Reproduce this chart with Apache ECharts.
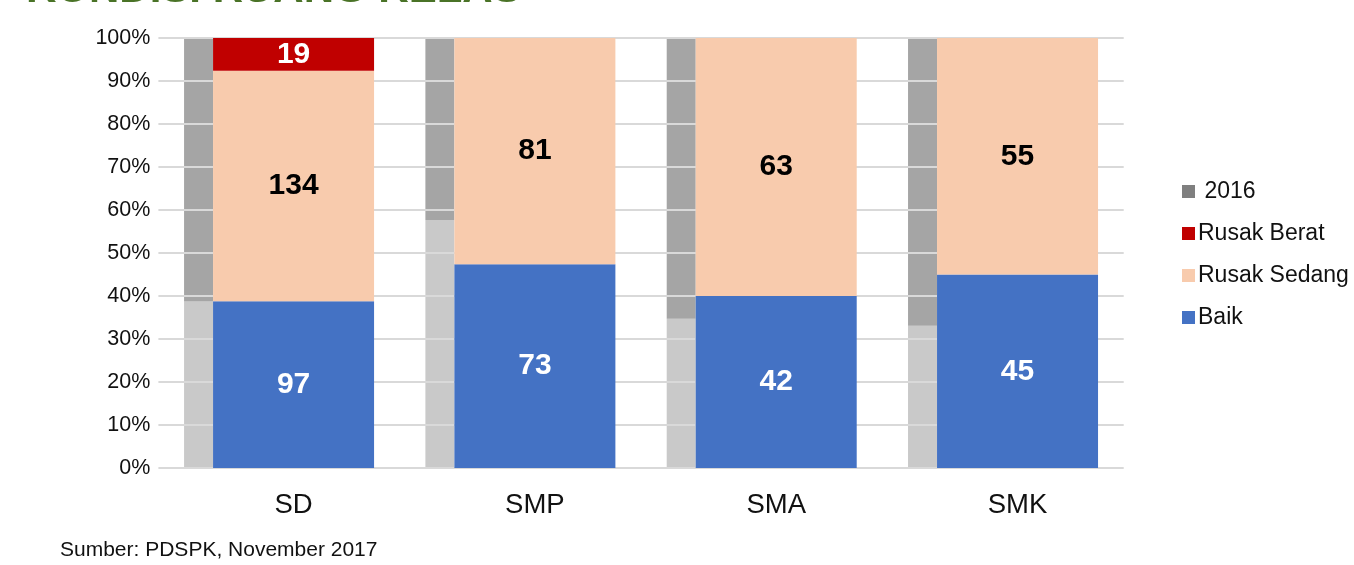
<!DOCTYPE html>
<html>
<head>
<meta charset="utf-8">
<script src="https://cdn.jsdelivr.net/npm/echarts@6/dist/echarts.min.js"></script>
<style>
  html, body { margin: 0; padding: 0; background: #fff; }
  #chart { width: 1354px; height: 565px; }
</style>
</head>
<body>
<div id="chart"></div>
<script>
const categories = ['SD', 'SMP', 'SMA', 'SMK'];
const baik = [97, 73, 42, 45];
const rusakSedang = [134, 81, 63, 55];
const rusakBerat = [19, 0, 0, 0];
// 2016 comparison bars (percent)
const baik2016 = [38.7, 57.7, 34.7, 33.1];
const rest2016 = [61.3, 42.3, 65.3, 66.9];

const totals = categories.map((c, i) => baik[i] + rusakSedang[i] + rusakBerat[i]);
const pct = arr => arr.map((v, i) => v / totals[i] * 100);

const font = '"Liberation Sans", Arial, sans-serif';

function mainSeries(name, counts, color, labelColor) {
  return {
    name: name,
    type: 'bar',
    stack: 'now',
    barWidth: 161,
    barGap: '0%',
    z: 4,
    itemStyle: { color: color },
    label: {
      show: true,
      position: 'inside',
      color: labelColor,
      fontFamily: font,
      fontWeight: 'bold',
      fontSize: 30,
      formatter: p => counts[p.dataIndex] ? String(counts[p.dataIndex]) : ''
    },
    data: pct(counts)
  };
}

const chart = echarts.init(document.getElementById('chart'));
chart.setOption({
  animation: false,
  textStyle: { fontFamily: font },
  grid: { left: 158.4, right: 230.3, top: 38, bottom: 97 },
  xAxis: {
    type: 'category',
    data: categories,
    axisLine: { show: false },
    axisTick: { show: false },
    axisLabel: {
      color: '#111',
      fontSize: 27.5,
      fontFamily: font,
      margin: 23,
      padding: [0, 0, 0, 29]
    }
  },
  yAxis: {
    type: 'value',
    min: 0,
    max: 100,
    interval: 10,
    z: 3,
    axisLine: { show: false },
    axisTick: { show: false },
    axisLabel: {
      formatter: '{value}%',
      color: '#111',
      fontSize: 21.5,
      fontFamily: font,
      margin: 8
    },
    splitLine: { lineStyle: { color: '#d9d9d9', width: 2 } }
  },
  legend: {
    orient: 'vertical',
    left: 1182,
    top: 180,
    padding: 0,
    itemGap: 19,
    itemWidth: 13,
    itemHeight: 13,
    icon: 'rect',
    textStyle: { fontSize: 23, color: '#111', fontFamily: font, padding: [0, 0, 0, -2] },
    formatter: name => name === '2016' ? ' 2016' : name,
    data: [
      { name: '2016', itemStyle: { color: '#7f7f7f' } },
      'Rusak Berat',
      'Rusak Sedang',
      'Baik'
    ]
  },
  graphic: [
    {
      type: 'text',
      x: 26,
      y: -31,
      style: {
        text: 'KONDISI RUANG KELAS',
        fill: '#4a7327',
        font: 'bold 42px "Liberation Sans", Arial, sans-serif'
      }
    },
    {
      type: 'text',
      left: 60,
      top: 540,
      style: {
        text: 'Sumber: PDSPK, November 2017',
        fill: '#111',
        font: '21px "Liberation Sans", Arial, sans-serif'
      }
    }
  ],
  series: [
    {
      name: '2016 Baik',
      type: 'bar',
      stack: 'y2016',
      barWidth: 29,
      barGap: '0%',
      z: 2,
      itemStyle: { color: '#c9c9c9' },
      data: baik2016
    },
    {
      name: '2016',
      type: 'bar',
      stack: 'y2016',
      barWidth: 29,
      barGap: '0%',
      z: 2,
      itemStyle: { color: '#a5a5a5' },
      data: rest2016
    },
    mainSeries('Baik', baik, '#4472c4', '#fff'),
    mainSeries('Rusak Sedang', rusakSedang, '#f8cbad', '#000'),
    mainSeries('Rusak Berat', rusakBerat, '#c00000', '#fff')
  ]
});
</script>
</body>
</html>
